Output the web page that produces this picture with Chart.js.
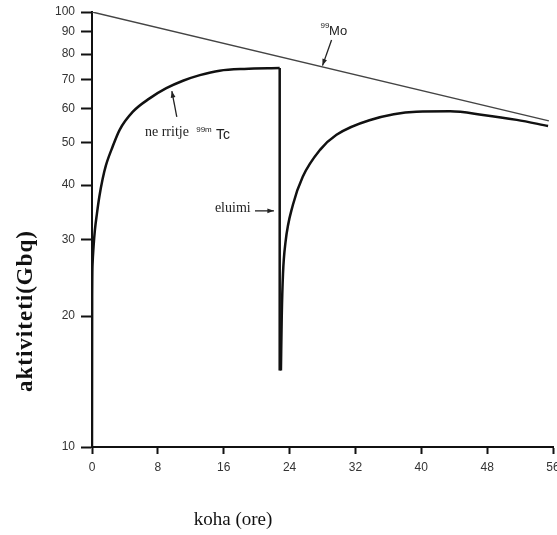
<!DOCTYPE html>
<html>
<head>
<meta charset="utf-8">
<script src="https://cdn.jsdelivr.net/npm/chart.js@4/dist/chart.umd.min.js"></script>
<style>
  html, body { margin: 0; padding: 0; background: #fff; overflow: hidden; }
  #wrap { width: 557px; height: 535px; }
</style>
</head>
<body>
<div id="wrap"><canvas id="chart" width="557" height="535"></canvas></div>
<script>
// 軸の目盛り
const xTicks = [0, 8, 16, 24, 32, 40, 48, 56];
const yTicks = [10, 20, 30, 40, 50, 60, 70, 80, 90, 100];

// 99Mo の減衰（対数軸で直線）
const moTime = [0, 55.5];
const moAct = [100, 56.2];

// 99mTc の増加（1回目）
const tc1Time = [0, 0.02, 0.07, 0.19, 0.35, 0.6, 0.89, 1.29, 1.69, 2.5, 3.36, 4.97, 7.0, 9.03, 11.05, 13.1, 15.5, 18.5, 22.8];
const tc1Act = [10, 22, 26.4, 28.9, 31.5, 34.4, 37.6, 41.3, 44.4, 49.0, 53.6, 59.0, 63.3, 66.8, 69.5, 71.6, 73.3, 74.0, 74.3];

// 溶出（eluimi）による落ち込み
const dropTime = [22.8, 22.8];
const dropAct = [74.3, 15];

// 99mTc の増加（2回目）
const tc2Time = [22.95, 23.05, 23.2, 23.5, 24.4, 25.6, 27.7, 29.7, 33.7, 39.4, 43.5, 47.5, 51.6, 55.4];
const tc2Act = [15, 20, 25, 29.5, 36, 41.8, 48.2, 52.2, 56.4, 59, 59.1, 58, 56.5, 54.7];

// 注記（データ座標）
const notes = [
  { text: 'Mo', t: 29.9, v: 90, font: '13px "Liberation Sans", Arial' },
  { text: '99', t: 28.3, v: 93.1, font: '8px "Liberation Sans", Arial' },
  { text: 'ne rritje', t: 9.1, v: 53, font: '14px "Liberation Serif", serif' },
  { text: '99m', t: 13.6, v: 53.6, font: '8px "Liberation Sans", Arial' },
  { text: 'Tc', t: 15.9, v: 52.1, font: '14px "Liberation Sans", Arial' },
  { text: 'eluimi', t: 17.1, v: 35.4, font: '14px "Liberation Serif", serif' }
];
const arrows = [
  { t1: 29.1, v1: 86.2, t2: 28.0, v2: 75.3 },
  { t1: 10.3, v1: 57.4, t2: 9.7, v2: 65.8 },
  { t1: 19.8, v1: 34.9, t2: 22.1, v2: 34.9 }
];

function toPoints(xs, ys) {
  return xs.map((x, i) => ({ x: x, y: ys[i] }));
}

// 注記と軸タイトルを描くプラグイン
const notePlugin = {
  id: 'notes',
  afterDatasetsDraw(chart) {
    const ctx = chart.ctx;
    const xs = chart.scales.x;
    const ys = chart.scales.y;
    ctx.save();
    ctx.fillStyle = '#222';
    ctx.textBaseline = 'middle';
    ctx.textAlign = 'center';
    notes.forEach(n => {
      ctx.font = n.font;
      ctx.fillText(n.text, xs.getPixelForValue(n.t), ys.getPixelForValue(n.v));
    });

    ctx.strokeStyle = '#222';
    ctx.lineWidth = 1.3;
    arrows.forEach(a => {
      const x1 = xs.getPixelForValue(a.t1), y1 = ys.getPixelForValue(a.v1);
      const x2 = xs.getPixelForValue(a.t2), y2 = ys.getPixelForValue(a.v2);
      ctx.beginPath();
      ctx.moveTo(x1, y1);
      ctx.lineTo(x2, y2);
      ctx.stroke();
      const ang = Math.atan2(y2 - y1, x2 - x1);
      ctx.beginPath();
      ctx.moveTo(x2, y2);
      ctx.lineTo(x2 - 7 * Math.cos(ang - 0.35), y2 - 7 * Math.sin(ang - 0.35));
      ctx.lineTo(x2 - 7 * Math.cos(ang + 0.35), y2 - 7 * Math.sin(ang + 0.35));
      ctx.closePath();
      ctx.fillStyle = '#222';
      ctx.fill();
    });

    // 軸タイトル
    ctx.fillStyle = '#111';
    ctx.font = 'bold 23px "Liberation Serif", serif';
    ctx.save();
    ctx.letterSpacing = '1px';
    ctx.translate(26, 311);
    ctx.rotate(-Math.PI / 2);
    ctx.fillText('aktiviteti(Gbq)', 0, 0);
    ctx.restore();
    ctx.font = '19px "Liberation Serif", serif';
    ctx.fillText('koha (ore)', 233, 520);
    ctx.restore();
  }
};

const lineBase = {
  pointRadius: 0,
  fill: false,
  borderColor: '#111'
};

new Chart(document.getElementById('chart').getContext('2d'), {
  type: 'line',
  data: {
    datasets: [
      { ...lineBase, label: '99Mo', data: toPoints(moTime, moAct), borderWidth: 1.5, borderColor: '#444' },
      { ...lineBase, label: '99mTc 1', data: toPoints(tc1Time, tc1Act), borderWidth: 2.5, cubicInterpolationMode: 'monotone' },
      { ...lineBase, label: 'eluimi', data: toPoints(dropTime, dropAct), borderWidth: 2.5 },
      { ...lineBase, label: '99mTc 2', data: toPoints(tc2Time, tc2Act), borderWidth: 2.5, cubicInterpolationMode: 'monotone' }
    ]
  },
  options: {
    responsive: false,
    animation: false,
    devicePixelRatio: 1,
    layout: { padding: { top: 12, right: 4, left: 0, bottom: 0 } },
    plugins: {
      legend: { display: false },
      tooltip: { enabled: false }
    },
    scales: {
      x: {
        type: 'linear',
        min: 0,
        max: 56,
        afterBuildTicks: s => { s.ticks = xTicks.map(v => ({ value: v })); },
        afterFit: s => { s.height = 88; s.paddingLeft = 0; s.paddingRight = 0; },
        grid: { drawOnChartArea: false, drawTicks: true, tickLength: 7, tickWidth: 2, tickColor: '#111' },
        border: { display: true, color: '#111', width: 2 },
        ticks: {
          color: '#333',
          padding: 6,
          maxRotation: 0,
          font: { family: '"Liberation Sans", Arial', size: 12 }
        }
      },
      y: {
        type: 'logarithmic',
        min: 10,
        max: 100,
        afterBuildTicks: s => { s.ticks = yTicks.map(v => ({ value: v })); },
        afterFit: s => { s.width = 92; s.paddingTop = 0; s.paddingBottom = 0; },
        grid: { drawOnChartArea: false, drawTicks: true, tickLength: 11, tickWidth: 2, tickColor: '#111' },
        border: { display: true, color: '#111', width: 2 },
        ticks: {
          color: '#333',
          padding: 6,
          callback: v => String(v),
          font: { family: '"Liberation Sans", Arial', size: 12 }
        }
      }
    }
  },
  plugins: [notePlugin]
});
</script>
</body>
</html>
